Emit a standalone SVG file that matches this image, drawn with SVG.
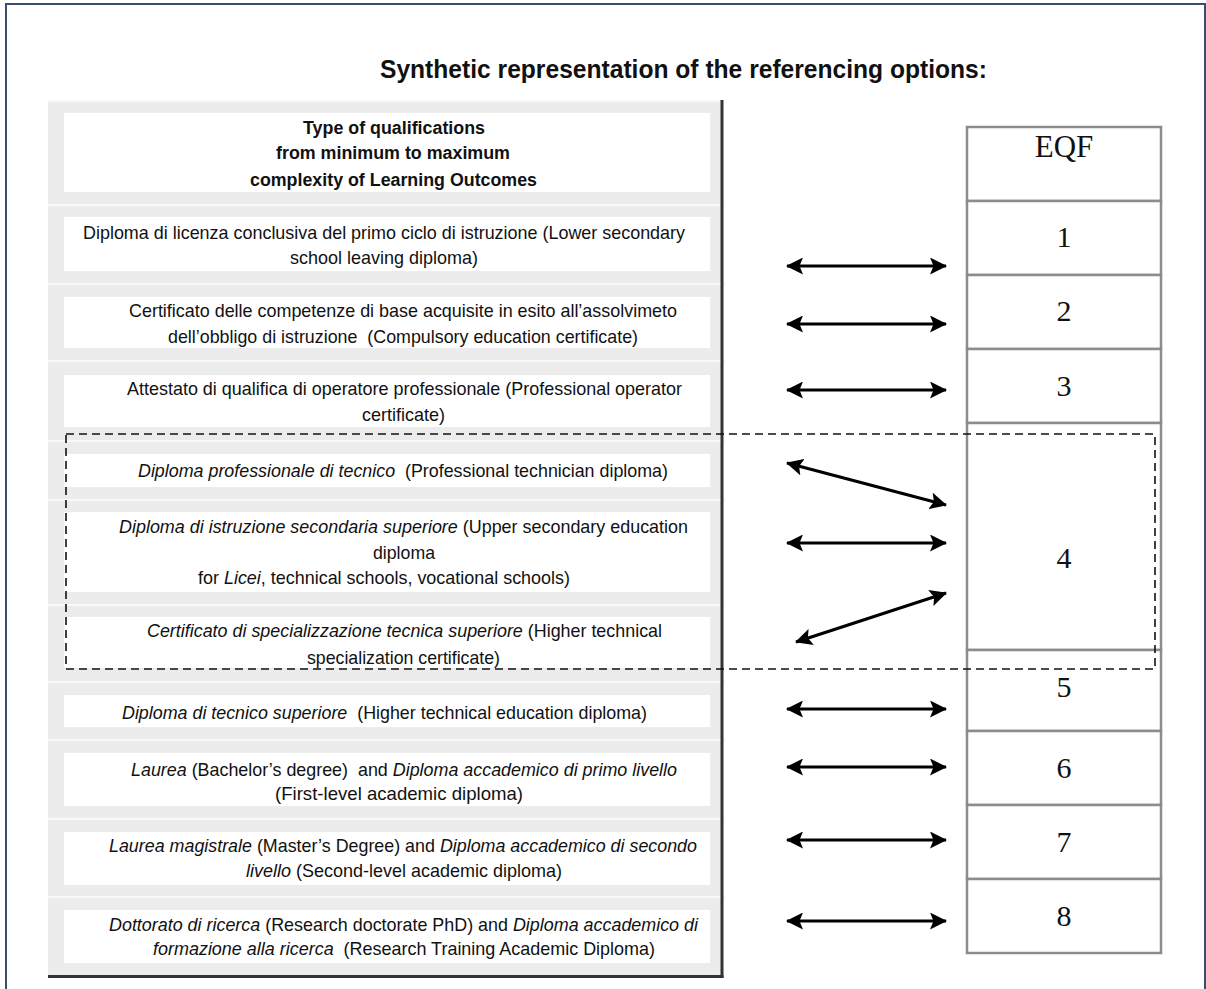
<svg xmlns="http://www.w3.org/2000/svg" width="1206" height="989" viewBox="0 0 1206 989">
<style>
.t{font-family:"Liberation Sans",Arial,sans-serif;font-size:18.5px;fill:#111;}
.h{font-family:"Liberation Sans",Arial,sans-serif;font-size:17.5px;font-weight:bold;fill:#111;}
.ttl{font-family:"Liberation Sans",Arial,sans-serif;font-size:25px;font-weight:bold;fill:#111;}
.i{font-style:italic;}
.n{font-family:"Liberation Serif","Times New Roman",serif;font-size:30px;fill:#111;text-anchor:middle;}
.box{fill:#ffffff;}
.sep{stroke:#f9f9f9;stroke-width:2;}
.cell{fill:#ffffff;stroke:#8c8c8c;stroke-width:2.5;}
.arr{stroke:#000;stroke-width:3;fill:none;marker-start:url(#ah);marker-end:url(#ah);}
</style>
<defs>
<marker id="ah" viewBox="0 0 17 17" refX="16" refY="8.5" markerWidth="17" markerHeight="17" markerUnits="userSpaceOnUse" orient="auto-start-reverse">
<path d="M0,0 L17,8.5 L0,17 L3.5,8.5 z" fill="#000"/>
</marker>
</defs>
<rect x="0" y="0" width="1206" height="989" fill="#ffffff"/>
<rect x="6" y="4" width="1199" height="1000" fill="none" stroke="#3b4d6e" stroke-width="2"/>

<g id="title">
<text class="ttl" x="380" y="78" textLength="607" lengthAdjust="spacingAndGlyphs">Synthetic representation of the referencing options:</text>
</g>

<g id="panel">
<rect x="48" y="100" width="674" height="877" fill="#ececec"/>
<line class="sep" x1="48" y1="101" x2="722" y2="101"/>
<line class="sep" x1="48" y1="205" x2="726" y2="205"/>
<line class="sep" x1="48" y1="284" x2="726" y2="284"/>
<line class="sep" x1="48" y1="361" x2="726" y2="361"/>
<line class="sep" x1="48" y1="441" x2="726" y2="441"/>
<line class="sep" x1="48" y1="500" x2="726" y2="500"/>
<line class="sep" x1="48" y1="605" x2="726" y2="605"/>
<line class="sep" x1="48" y1="682" x2="726" y2="682"/>
<line class="sep" x1="48" y1="740" x2="726" y2="740"/>
<line class="sep" x1="48" y1="819" x2="726" y2="819"/>
<line class="sep" x1="48" y1="897" x2="726" y2="897"/>
<line x1="722" y1="100" x2="722" y2="978" stroke="#333" stroke-width="3"/>
<line x1="48" y1="976.5" x2="723.5" y2="976.5" stroke="#333" stroke-width="3"/>
</g>

<g id="header">
<rect class="box" x="64" y="113" width="646" height="79"/>
<text class="h" x="303" y="134" textLength="182" lengthAdjust="spacingAndGlyphs">Type of qualifications</text>
<text class="h" x="276" y="159" textLength="234" lengthAdjust="spacingAndGlyphs">from minimum to maximum</text>
<text class="h" x="250" y="186" textLength="287" lengthAdjust="spacingAndGlyphs">complexity of Learning Outcomes</text>
</g>

<g id="row1">
<rect class="box" x="64" y="217" width="646" height="54"/>
<text class="t" x="83" y="239" textLength="602" lengthAdjust="spacingAndGlyphs">Diploma di licenza conclusiva del primo ciclo di istruzione (Lower secondary</text>
<text class="t" x="290" y="264" textLength="188" lengthAdjust="spacingAndGlyphs">school leaving diploma)</text>
</g>

<g id="row2">
<rect class="box" x="64" y="297" width="646" height="51"/>
<text class="t" x="129" y="317" textLength="548" lengthAdjust="spacingAndGlyphs">Certificato delle competenze di base acquisite in esito all’assolvimeto</text>
<text class="t" x="168" y="343" textLength="470" lengthAdjust="spacingAndGlyphs" xml:space="preserve">dell’obbligo di istruzione  (Compulsory education certificate)</text>
</g>

<g id="row3">
<rect class="box" x="64" y="375" width="646" height="52"/>
<text class="t" x="127" y="395" textLength="555" lengthAdjust="spacingAndGlyphs">Attestato di qualifica di operatore professionale (Professional operator</text>
<text class="t" x="362" y="421" textLength="83" lengthAdjust="spacingAndGlyphs">certificate)</text>
</g>

<g id="row4">
<rect class="box" x="64" y="454" width="646" height="33"/>
<text class="t" x="138" y="477" textLength="530" lengthAdjust="spacingAndGlyphs" xml:space="preserve"><tspan class="i">Diploma professionale di tecnico</tspan>  (Professional technician diploma)</text>
</g>

<g id="row5">
<rect class="box" x="64" y="512" width="646" height="80"/>
<text class="t" x="119" y="533" textLength="569" lengthAdjust="spacingAndGlyphs"><tspan class="i">Diploma di istruzione secondaria superiore</tspan> (Upper secondary education</text>
<text class="t" x="373" y="559" textLength="62" lengthAdjust="spacingAndGlyphs">diploma</text>
<text class="t" x="198" y="584" textLength="372" lengthAdjust="spacingAndGlyphs">for <tspan class="i">Licei</tspan>, technical schools, vocational schools)</text>
</g>

<g id="row6">
<rect class="box" x="64" y="617" width="646" height="51"/>
<text class="t" x="147" y="637" textLength="515" lengthAdjust="spacingAndGlyphs"><tspan class="i">Certificato di specializzazione tecnica superiore</tspan> (Higher technical</text>
<text class="t" x="307" y="664" textLength="193" lengthAdjust="spacingAndGlyphs">specialization certificate)</text>
</g>

<g id="row7">
<rect class="box" x="64" y="695" width="646" height="32"/>
<text class="t" x="122" y="719" textLength="525" lengthAdjust="spacingAndGlyphs" xml:space="preserve"><tspan class="i">Diploma di tecnico superiore</tspan>  (Higher technical education diploma)</text>
</g>

<g id="row8">
<rect class="box" x="64" y="753" width="646" height="53"/>
<text class="t" x="131" y="776" textLength="546" lengthAdjust="spacingAndGlyphs" xml:space="preserve"><tspan class="i">Laurea</tspan> (Bachelor’s degree)  and <tspan class="i">Diploma accademico di primo livello</tspan></text>
<text class="t" x="275" y="800" textLength="248" lengthAdjust="spacingAndGlyphs">(First-level academic diploma)</text>
</g>

<g id="row9">
<rect class="box" x="64" y="832" width="646" height="53"/>
<text class="t" x="109" y="852" textLength="588" lengthAdjust="spacingAndGlyphs"><tspan class="i">Laurea magistrale</tspan> (Master’s Degree) and <tspan class="i">Diploma accademico di secondo</tspan></text>
<text class="t" x="246" y="877" textLength="316" lengthAdjust="spacingAndGlyphs"><tspan class="i">livello</tspan> (Second-level academic diploma)</text>
</g>

<g id="row10">
<rect class="box" x="64" y="910" width="646" height="53"/>
<text class="t" x="109" y="931" textLength="589" lengthAdjust="spacingAndGlyphs"><tspan class="i">Dottorato di ricerca</tspan> (Research doctorate PhD) and <tspan class="i">Diploma accademico di</tspan></text>
<text class="t" x="153" y="955" textLength="502" lengthAdjust="spacingAndGlyphs" xml:space="preserve"><tspan class="i">formazione alla ricerca</tspan>  (Research Training Academic Diploma)</text>
</g>

<g id="eqf-table">
<g id="eqf-head"><rect class="cell" x="967" y="127" width="194" height="74"/><text class="n" x="1064" y="157" style="font-size:31px">EQF</text></g>
<g id="eqf-1"><rect class="cell" x="967" y="201" width="194" height="74"/><text class="n" x="1064" y="247">1</text></g>
<g id="eqf-2"><rect class="cell" x="967" y="275" width="194" height="74"/><text class="n" x="1064" y="321">2</text></g>
<g id="eqf-3"><rect class="cell" x="967" y="349" width="194" height="74"/><text class="n" x="1064" y="396">3</text></g>
<g id="eqf-4"><rect class="cell" x="967" y="423" width="194" height="227"/><text class="n" x="1064" y="568">4</text></g>
<g id="eqf-5"><rect class="cell" x="967" y="650" width="194" height="81"/><text class="n" x="1064" y="697">5</text></g>
<g id="eqf-6"><rect class="cell" x="967" y="731" width="194" height="74"/><text class="n" x="1064" y="778">6</text></g>
<g id="eqf-7"><rect class="cell" x="967" y="805" width="194" height="74"/><text class="n" x="1064" y="852">7</text></g>
<g id="eqf-8"><rect class="cell" x="967" y="879" width="194" height="74"/><text class="n" x="1064" y="926">8</text></g>
</g>

<g id="level4-group">
<rect x="66" y="434" width="1089" height="235" fill="none" stroke="#111" stroke-width="1.6" stroke-dasharray="8,5"/>
</g>

<g id="connectors">
<path class="arr" d="M787,266 L946,266"/>
<path class="arr" d="M787,324 L946,324"/>
<path class="arr" d="M787,390 L946,390"/>
<path class="arr" d="M787,463 L946,505"/>
<path class="arr" d="M787,543 L946,543"/>
<path class="arr" d="M796,642 L946,593"/>
<path class="arr" d="M787,709 L946,709"/>
<path class="arr" d="M787,767 L946,767"/>
<path class="arr" d="M787,840 L946,840"/>
<path class="arr" d="M787,921 L946,921"/>
</g>
</svg>
